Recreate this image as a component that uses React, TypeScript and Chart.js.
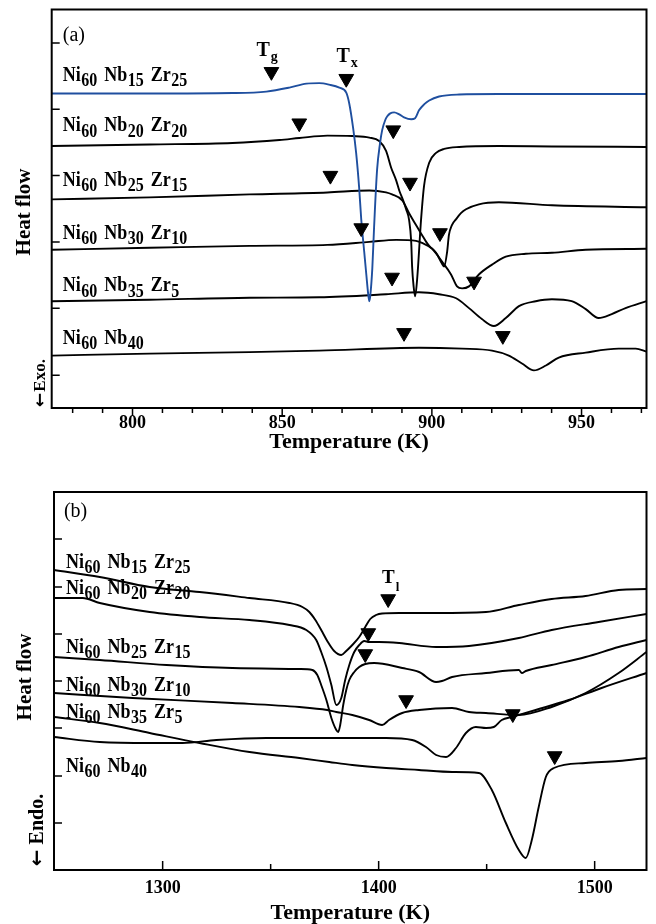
import React, { useEffect, useRef } from "react";
import { Chart, registerables } from "chart.js";

Chart.register(...registerables);

const SERIF = '"Liberation Serif", "Times New Roman", serif';
const BLUE = "#1f4f9f";
const BLACK = "#000000";

// ---------------- Panel (a): DSC scans (glass transition / crystallization) ----------------
const A_T_MIN = 773;
const A_T_MAX = 971.7;
const A_HF_MAX = 403;
const A_X_TICKS = [780, 790, 800, 810, 820, 830, 840, 850, 860, 870, 880, 890, 900, 910, 920, 930, 940, 950, 960, 970];
const A_Y_TICKS = [33, 101, 168, 235, 302, 369];

const A_NB15_ZR25: [number, number][] = [
  [773.0, 318], [805.7, 318], [833.4, 318.5], [844.7, 320], [852.4, 324], [858.1, 328], [862.4, 328.5],
  [865.7, 327], [869.1, 324], [871.4, 319], [872.4, 308], [873.7, 283], [874.7, 258], [875.7, 223],
  [876.4, 191], [877.4, 158], [878.1, 135], [878.7, 116], [879.1, 108], [879.4, 113], [880.1, 141],
  [880.7, 183], [881.7, 241], [882.7, 268], [883.4, 281], [884.4, 291], [885.1, 295], [886.1, 298],
  [887.4, 299], [889.1, 297], [890.7, 294], [893.1, 292], [894.4, 293], [895.7, 301], [897.4, 307],
  [899.1, 311], [902.4, 315], [909.1, 317], [922.4, 317.5], [971.7, 317.5],
];
const A_NB20_ZR20: [number, number][] = [
  [773.0, 265], [805.7, 266.5], [833.4, 268], [849.1, 271], [855.7, 273], [865.1, 275.5], [873.4, 275],
  [879.1, 273.5], [882.4, 270], [884.7, 260], [886.4, 243], [888.1, 230], [889.1, 220], [890.4, 210],
  [891.4, 201], [892.4, 190], [893.1, 168], [893.4, 143], [893.9, 123], [894.4, 113], [895.1, 131],
  [896.4, 191], [897.4, 225], [899.1, 248], [901.4, 258], [904.1, 262], [909.1, 264], [922.4, 265],
  [940.1, 264.5], [971.7, 264],
];
const A_NB25_ZR15: [number, number][] = [
  [773.0, 211], [805.7, 213], [839.1, 216], [865.1, 218], [879.1, 220], [884.7, 218], [886.7, 216],
  [890.1, 210], [892.4, 197], [894.7, 185], [896.7, 175], [898.1, 168], [899.1, 164], [901.4, 157],
  [903.4, 146], [904.1, 143], [905.1, 158], [905.7, 175], [906.7, 185], [908.1, 191], [909.7, 197],
  [911.4, 201], [915.7, 206], [922.4, 208], [940.1, 205], [971.7, 203],
];
const A_NB30_ZR10: [number, number][] = [
  [773.0, 160], [805.7, 162], [839.1, 164], [865.1, 165], [879.1, 168], [888.1, 170], [894.7, 169],
  [896.7, 167], [900.1, 161], [903.4, 148], [906.4, 135], [908.4, 123], [910.1, 121], [912.4, 123],
  [915.7, 135], [920.1, 145], [924.7, 153], [931.4, 156], [940.1, 157], [951.4, 160], [971.7, 161],
];
const A_NB35_ZR5: [number, number][] = [
  [773.0, 108], [805.7, 109.5], [839.1, 111.5], [862.4, 112], [884.7, 115], [895.7, 117], [902.4, 115],
  [908.1, 111], [912.4, 101], [916.7, 90], [920.7, 83], [924.7, 91], [929.1, 103], [934.7, 108],
  [940.1, 110], [946.7, 108], [951.4, 100], [955.7, 91], [960.1, 95], [964.7, 101], [971.7, 108],
];
const A_NB40: [number, number][] = [
  [773.0, 53], [805.7, 55], [839.1, 56.5], [862.4, 58], [895.7, 61], [910.1, 60], [920.1, 58],
  [925.7, 53], [930.1, 45], [934.1, 38], [938.1, 43], [942.4, 51], [951.4, 56], [962.4, 60],
  [968.1, 60], [971.7, 57],
];
// onset markers (Tg and Tx)
const A_TG: [number, number][] = [[846.4, 340], [855.7, 288], [866.1, 235], [876.4, 182], [886.7, 132], [890.7, 76]];
const A_TX: [number, number][] = [[871.4, 333], [887.1, 281], [892.7, 228], [902.7, 177], [914.1, 128], [923.7, 73]];

// ---------------- Panel (b): DTA scans (melting / liquidus) ----------------
const B_T_MIN = 1249.7;
const B_T_MAX = 1524;
const B_HF_MAX = 378;
const B_X_TICKS = [1300, 1350, 1400, 1450, 1500];
const B_Y_TICKS = [47, 94, 142, 189, 236, 283, 331];

const B_NB15_ZR25: [number, number][] = [
  [1249.7, 300], [1270.9, 293], [1294.0, 283], [1317.1, 278], [1340.2, 272], [1358.7, 267], [1364.7, 263],
  [1367.9, 258], [1370.7, 250], [1373.4, 240], [1376.2, 229], [1379.4, 219], [1382.7, 215], [1385.0, 219],
  [1387.8, 225], [1391.0, 233], [1393.8, 243], [1396.1, 251], [1398.8, 255], [1401.6, 256.5], [1409.5, 257],
  [1426.6, 257], [1449.7, 258], [1464.9, 265], [1480.1, 271], [1495.8, 274], [1511.1, 280], [1524.0, 281],
];
const B_NB20_ZR20: [number, number][] = [
  [1249.7, 272], [1263.0, 272], [1270.9, 267], [1294.0, 258], [1317.1, 253], [1340.2, 250], [1358.7, 245],
  [1366.5, 240], [1371.1, 230], [1373.4, 218], [1375.8, 203], [1378.1, 185], [1380.4, 165], [1382.7, 172],
  [1384.5, 190], [1386.4, 205], [1388.7, 218], [1391.0, 225], [1393.3, 229], [1395.6, 228], [1400.2, 228],
  [1409.5, 227], [1426.6, 223], [1441.8, 224], [1464.9, 232], [1480.1, 240], [1501.8, 248], [1524.0, 256],
];
const B_NB25_ZR15: [number, number][] = [
  [1249.7, 213], [1270.9, 210], [1301.8, 205], [1332.3, 202], [1363.3, 201], [1369.3, 200], [1371.6, 195],
  [1373.4, 185], [1375.8, 170], [1378.1, 152], [1380.4, 140], [1381.3, 138], [1382.2, 145], [1383.6, 165],
  [1385.0, 180], [1386.4, 190], [1388.7, 198], [1391.0, 203], [1393.8, 206], [1397.9, 207], [1410.9, 202],
  [1418.7, 198], [1426.6, 188], [1429.3, 189], [1434.0, 193], [1449.7, 197], [1464.9, 200], [1466.3, 197],
  [1468.1, 199], [1480.1, 205], [1495.8, 213], [1511.1, 223], [1524.0, 230],
];
const B_NB30_ZR10: [number, number][] = [
  [1249.7, 177], [1286.1, 172], [1332.3, 167], [1363.3, 163], [1376.2, 160], [1380.4, 158], [1387.8, 155],
  [1395.6, 150], [1401.6, 145], [1404.8, 150], [1410.9, 157], [1418.7, 160], [1434.0, 162], [1441.8, 158],
  [1449.7, 157], [1464.9, 155], [1480.1, 163], [1495.8, 177], [1511.1, 197], [1524.0, 218],
];
const B_NB35_ZR5: [number, number][] = [
  [1249.7, 133], [1270.9, 128], [1294.0, 127], [1309.2, 127], [1324.9, 130], [1348.0, 132], [1377.1, 132],
  [1403.5, 132], [1415.5, 130], [1421.9, 123], [1426.6, 115], [1431.2, 113], [1435.8, 122], [1440.4, 137],
  [1445.0, 143], [1449.7, 142], [1453.3, 143], [1457.0, 150], [1461.7, 153], [1472.7, 160], [1488.0, 170],
  [1503.2, 182], [1524.0, 197],
];
const B_NB40: [number, number][] = [
  [1249.7, 153], [1270.9, 147], [1294.0, 137], [1317.1, 127], [1340.2, 118], [1363.3, 112], [1377.1, 108],
  [1387.8, 105], [1403.5, 102], [1418.7, 100], [1434.0, 98], [1446.4, 97], [1452.4, 80], [1458.9, 47],
  [1464.9, 20], [1468.1, 12], [1470.9, 30], [1474.1, 63], [1477.4, 93], [1481.1, 102], [1495.8, 107],
  [1511.1, 109], [1524.0, 112],
];
const B_TL: [number, number][] = [[1404.4, 271], [1395.2, 237], [1393.8, 216], [1412.7, 170], [1462.1, 156], [1481.5, 114]];

// alloy names (element, subscript)
const ALLOYS: [string, string][][] = [
  [["Ni", "60"], ["Nb", "15"], ["Zr", "25"]],
  [["Ni", "60"], ["Nb", "20"], ["Zr", "20"]],
  [["Ni", "60"], ["Nb", "25"], ["Zr", "15"]],
  [["Ni", "60"], ["Nb", "30"], ["Zr", "10"]],
  [["Ni", "60"], ["Nb", "35"], ["Zr", "5"]],
  [["Ni", "60"], ["Nb", "40"]],
];

type Decor = {
  xTicks: number[];
  isMajor: (v: number) => boolean;
  xOut: boolean;
  majorLen: number;
  minorLen: number;
  yTicks: number[];
  tag: string;
  tagAt: [number, number];
  nameAt: [number, number][];
  tLabels: { sub: string; at: [number, number]; size: number; subSize: number; subDy: number }[];
  heatAt: [number, number];
  arrowWord: string;
  arrowGap: number;
  arrowAt: [number, number];
  arrowSize: number;
};

function drawFormula(ctx: CanvasRenderingContext2D, parts: [string, string][], x: number, y: number) {
  ctx.save();
  ctx.translate(x, y);
  ctx.scale(1, 1.22);
  ctx.textAlign = "left";
  ctx.textBaseline = "alphabetic";
  ctx.fillStyle = BLACK;
  let cx = 0;
  parts.forEach(([el, sub], i) => {
    if (i > 0) cx += 7;
    ctx.font = `bold 18px ${SERIF}`;
    ctx.fillText(el, cx, 0);
    cx += ctx.measureText(el).width + 0.5;
    ctx.font = `bold 16px ${SERIF}`;
    ctx.fillText(sub, cx, 4.5);
    cx += ctx.measureText(sub).width;
  });
  ctx.restore();
}

function decorPlugin(d: Decor) {
  return {
    id: "decor",
    afterDraw(chart: any) {
      const { ctx, chartArea: ca, scales } = chart;
      const xs = scales.x;
      const ys = scales.y;
      ctx.save();
      ctx.strokeStyle = BLACK;
      ctx.lineWidth = 1.5;
      ctx.beginPath();
      d.xTicks.forEach((v) => {
        const px = xs.getPixelForValue(v);
        const len = d.isMajor(v) ? d.majorLen : d.minorLen;
        ctx.moveTo(px, ca.bottom);
        ctx.lineTo(px, d.xOut ? ca.bottom + len : ca.bottom - len);
      });
      d.yTicks.forEach((v) => {
        const py = ys.getPixelForValue(v);
        ctx.moveTo(ca.left, py);
        ctx.lineTo(ca.left + 8, py);
      });
      ctx.stroke();
      ctx.lineWidth = 2;
      ctx.strokeRect(ca.left, ca.top, ca.right - ca.left, ca.bottom - ca.top);

      ctx.fillStyle = BLACK;
      // panel tag
      ctx.font = `20px ${SERIF}`;
      ctx.textAlign = "left";
      ctx.textBaseline = "middle";
      ctx.fillText(d.tag, xs.getPixelForValue(d.tagAt[0]), ys.getPixelForValue(d.tagAt[1]));
      // alloy names
      d.nameAt.forEach((p, i) => {
        drawFormula(ctx, ALLOYS[i], xs.getPixelForValue(p[0]), ys.getPixelForValue(p[1]));
      });
      // T labels
      ctx.textBaseline = "alphabetic";
      d.tLabels.forEach((t) => {
        const px = xs.getPixelForValue(t.at[0]);
        const py = ys.getPixelForValue(t.at[1]);
        ctx.font = `bold ${t.size}px ${SERIF}`;
        ctx.fillText("T", px, py);
        const w = ctx.measureText("T").width;
        ctx.font = `bold ${t.subSize}px ${SERIF}`;
        ctx.fillText(t.sub, px + w + 1, py + t.subDy);
      });
      // y-axis titles
      ctx.textBaseline = "middle";
      ctx.save();
      ctx.translate(d.heatAt[0], d.heatAt[1]);
      ctx.rotate(-Math.PI / 2);
      ctx.textAlign = "center";
      ctx.font = `bold 21px ${SERIF}`;
      ctx.fillText("Heat flow", 0, 0);
      ctx.restore();
      // arrow + Exo./Endo.
      ctx.save();
      ctx.translate(d.arrowAt[0], d.arrowAt[1]);
      ctx.rotate(-Math.PI / 2);
      ctx.textAlign = "left";
      const arrowFont = `bold ${d.arrowSize}px "DejaVu Sans"`;
      const wordFont = `bold ${d.arrowSize}px ${SERIF}`;
      ctx.font = arrowFont;
      const aw = ctx.measureText("←").width;
      ctx.font = wordFont;
      const ww = ctx.measureText(d.arrowWord).width;
      const total = aw + d.arrowGap + ww;
      ctx.font = arrowFont;
      ctx.fillText("←", -total / 2, 0);
      ctx.font = wordFont;
      ctx.fillText(d.arrowWord, -total / 2 + aw + d.arrowGap, 0);
      ctx.restore();
      ctx.restore();
    },
  };
}

function lineSet(data: [number, number][], color: string) {
  return {
    data: data.map(([x, y]) => ({ x, y })),
    borderColor: color,
    borderWidth: 1.9,
    pointRadius: 0,
    fill: false,
    cubicInterpolationMode: "monotone" as const,
  };
}

function markerSet(groups: [number, number][][]) {
  const pts: { x: number; y: number }[] = [];
  groups.forEach((g) => g.forEach(([x, y]) => pts.push({ x, y })));
  return {
    data: pts,
    showLine: false,
    pointStyle: "triangle" as const,
    rotation: 180,
    pointRadius: 8.5,
    pointBackgroundColor: BLACK,
    pointBorderColor: BLACK,
    pointBorderWidth: 1,
  };
}

function buildConfig(opts: {
  series: [number, number][][];
  colors: string[];
  markers: [number, number][][];
  tMin: number;
  tMax: number;
  hfMax: number;
  xTicks: number[];
  labelEvery: number;
  padding: { left: number; right: number; top: number; bottom: number };
  tickPad: number;
  titlePad: { top: number; bottom: number };
  decor: Decor;
}) {
  const datasets: any[] = [markerSet(opts.markers)];
  opts.series.forEach((s, i) => datasets.push(lineSet(s, opts.colors[i])));
  return {
    type: "line" as const,
    data: { datasets },
    options: {
      animation: false as const,
      responsive: false,
      maintainAspectRatio: false,
      layout: { padding: opts.padding },
      plugins: { legend: { display: false }, tooltip: { enabled: false } },
      scales: {
        x: {
          type: "linear" as const,
          min: opts.tMin,
          max: opts.tMax,
          grid: { display: false, drawTicks: false },
          border: { display: false },
          afterBuildTicks: (scale: any) => {
            scale.ticks = opts.xTicks.map((v) => ({ value: v }));
          },
          ticks: {
            autoSkip: false,
            maxRotation: 0,
            padding: opts.tickPad,
            color: BLACK,
            font: { family: SERIF, size: 18, weight: "bold" as const, lineHeight: 1 },
            callback: (v: any) => (Number(v) % opts.labelEvery === 0 ? String(v) : ""),
          },
          title: {
            display: true,
            text: "Temperature (K)",
            color: BLACK,
            font: { family: SERIF, size: 22, weight: "bold" as const, lineHeight: 1 },
            padding: opts.titlePad,
          },
        },
        y: { type: "linear" as const, display: false, min: 0, max: opts.hfMax },
      },
    },
    plugins: [decorPlugin(opts.decor)],
  };
}

export default function App() {
  const refA = useRef<HTMLCanvasElement>(null);
  const refB = useRef<HTMLCanvasElement>(null);

  useEffect(() => {
    const cfgA = buildConfig({
      series: [A_NB15_ZR25, A_NB20_ZR20, A_NB25_ZR15, A_NB30_ZR10, A_NB35_ZR5, A_NB40],
      colors: [BLUE, BLACK, BLACK, BLACK, BLACK, BLACK],
      markers: [A_TG, A_TX],
      tMin: A_T_MIN,
      tMax: A_T_MAX,
      hfMax: A_HF_MAX,
      xTicks: A_X_TICKS,
      labelEvery: 50,
      padding: { left: 51.7, right: 8, top: 5, bottom: 0 },
      tickPad: 6,
      titlePad: { top: -7, bottom: 4 },
      decor: {
        xTicks: A_X_TICKS,
        isMajor: (v) => v % 50 === 0,
        xOut: true,
        majorLen: 8,
        minorLen: 5,
        yTicks: A_Y_TICKS,
        tag: "(a)",
        tagAt: [776.7, 376],
        nameAt: [[776.7, 331], [776.7, 280], [776.7, 225], [776.7, 171], [776.7, 118], [776.7, 65]],
        tLabels: [
          { sub: "g", at: [841.4, 356], size: 20, subSize: 14, subDy: 5 },
          { sub: "x", at: [868.1, 350], size: 20, subSize: 14, subDy: 5 },
        ],
        heatAt: [25, 212],
        arrowWord: "Exo.",
        arrowGap: 1,
        arrowAt: [41, 383],
        arrowSize: 17,
      },
    });
    const cfgB = buildConfig({
      series: [B_NB15_ZR25, B_NB20_ZR20, B_NB25_ZR15, B_NB30_ZR10, B_NB35_ZR5, B_NB40],
      colors: [BLACK, BLACK, BLACK, BLACK, BLACK, BLACK],
      markers: [B_TL],
      tMin: B_T_MIN,
      tMax: B_T_MAX,
      hfMax: B_HF_MAX,
      xTicks: B_X_TICKS,
      labelEvery: 100,
      padding: { left: 54, right: 8, top: 32, bottom: 0 },
      tickPad: 9,
      titlePad: { top: -4, bottom: 0 },
      decor: {
        xTicks: B_X_TICKS,
        isMajor: (v) => v % 100 === 0,
        xOut: false,
        majorLen: 9,
        minorLen: 6,
        yTicks: B_Y_TICKS,
        tag: "(b)",
        tagAt: [1254.3, 358],
        nameAt: [[1255.2, 302], [1255.2, 276], [1255.2, 217], [1255.2, 179], [1255.2, 152], [1255.2, 98]],
        tLabels: [{ sub: "l", at: [1401.6, 287], size: 19, subSize: 13, subDy: 8 }],
        heatAt: [26, 217],
        arrowWord: "Endo.",
        arrowGap: 5,
        arrowAt: [38, 370],
        arrowSize: 20,
      },
    });
    const a = new Chart(refA.current as HTMLCanvasElement, cfgA as any);
    const b = new Chart(refB.current as HTMLCanvasElement, cfgB as any);
    return () => {
      a.destroy();
      b.destroy();
    };
  }, []);

  return (
    <div style={{ position: "absolute", left: 0, top: 0, width: 656, height: 924, background: "#ffffff" }}>
      <canvas
        ref={refA}
        width={656}
        height={457}
        style={{ position: "absolute", left: 0, top: 0, width: 656, height: 457 }}
      />
      <canvas
        ref={refB}
        width={656}
        height={464}
        style={{ position: "absolute", left: 0, top: 460, width: 656, height: 464 }}
      />
    </div>
  );
}
